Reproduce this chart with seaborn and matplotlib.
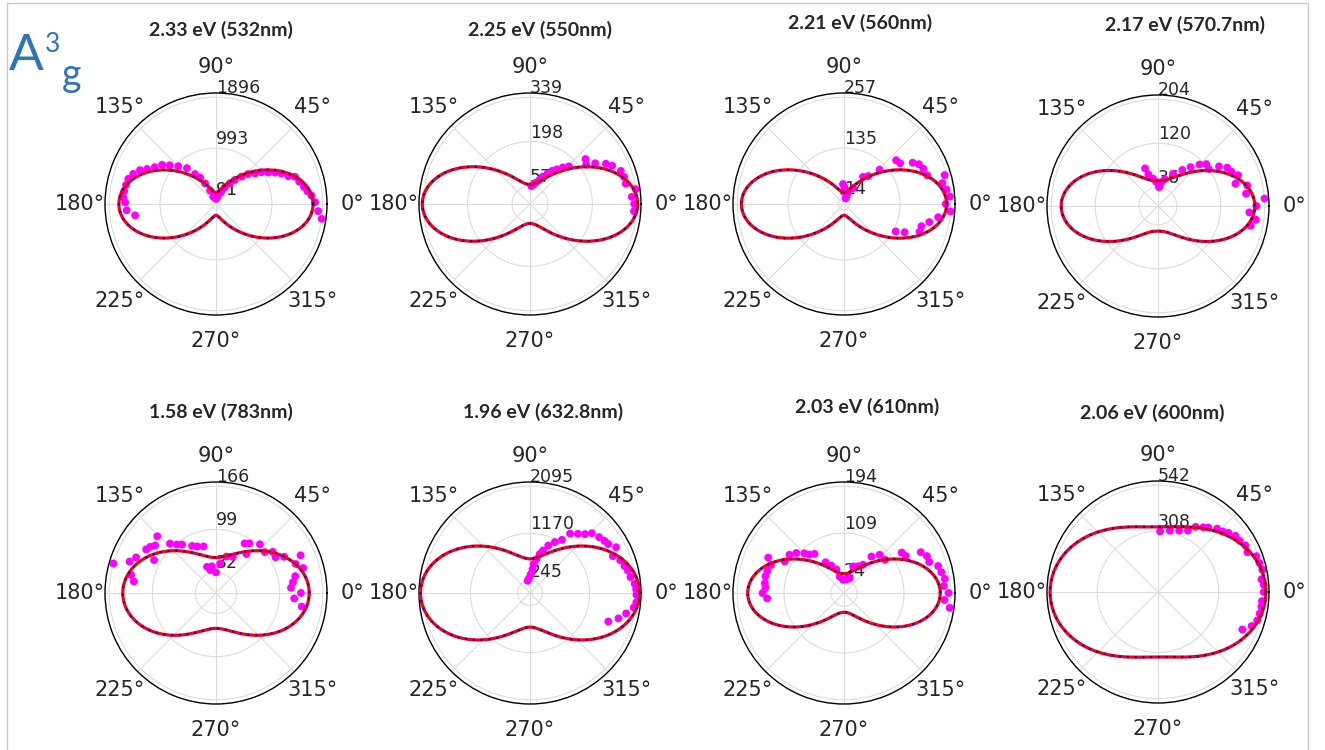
import numpy as np
import matplotlib
matplotlib.use("Agg")
import matplotlib.pyplot as plt
import seaborn as sns
from matplotlib.patches import Rectangle

sns.set_style("white")
plt.rcParams['font.family'] = ['DejaVu Sans']

# panel titles, in drawing order (top row then bottom row)
titles = ["2.33 eV (532nm)", "2.25 eV (550nm)", "2.21 eV (560nm)", "2.17 eV (570.7nm)",
          "1.58 eV (783nm)", "1.96 eV (632.8nm)", "2.03 eV (610nm)", "2.06 eV (600nm)"]

# fitted intensity at 0, 90 and 45 degrees
fit_0 = [1725, 342, 247, 185, 145, 2150, 175, 548]
fit_90 = [200, 62, 27, 48, 55, 670, 35, 330]
fit_45 = [770, 152, 100, 92, 93, 1300, 81, 431]

# radial tick values shown on each panel
rticks = [[91, 993, 1896], [57, 198, 339], [14, 135, 257], [36, 120, 204],
          [32, 99, 166], [245, 1170, 2095], [24, 109, 194], [308, 542]]

# measured points (angle in degrees, intensity)
ang_233 = [-8, -4, 1, 5, 8, 11, 15, 19, 21, 25, 28, 31, 35, 38, 43, 47, 52, 56, 62, 68,
           79, 90, 110, 114, 118, 121, 125, 129, 135, 140, 144, 149, 153, 156, 160, 164,
           168, 172, 176, 179, 184, 188]
r_233 = [1896, 1820, 1760, 1704, 1638, 1592, 1531, 1484, 1377, 1281, 1188, 1086, 983, 881,
         779, 666, 543, 443, 336, 217, 121, 91, 138, 260, 415, 547, 650, 820, 950, 1071,
         1184, 1270, 1373, 1478, 1565, 1621, 1633, 1647, 1650, 1615, 1590, 1451]

ang_225 = [-4, 0, 4, 8, 12, 16, 20, 25, 28, 32, 35, 39, 44, 48, 52, 56, 60, 65, 69, 75, 81, 86]
r_225 = [331, 331, 324, 339, 311, 311, 307, 288, 273, 244, 218, 227, 172, 156, 140, 127,
         112, 96, 81, 70, 61, 57]

ang_221 = [-28, -25, -20, -16, -12, -8, -4, 0, 4, 8, 12, 16, 19, 24, 28, 31, 36, 40, 44, 49,
           55, 60, 71, 72, 75, 93, 88, 92]
r_221 = [141, 161, 194, 194, 210, 229, 257, 245, 256, 249, 242, 252, 212, 209, 204, 193,
         167, 164, 119, 89, 80, 44, 29, 19, 14, 48, 40, 30]

ang_217 = [-12, -8, -4, 0, 4, 8, 13, 16, 21, 25, 29, 33, 36, 41, 45, 50, 56, 65, 76, 82,
           85, 87, 94, 100, 107, 109]
r_217 = [181, 189, 175, 188, 204, 170, 175, 154, 164, 155, 151, 139, 120, 122, 112, 97,
         83, 68, 53, 46, 39, 36, 46, 53, 63, 76]

ang_158 = [-9, -4, 0, 4, 8, 12, 16, 20, 24, 28, 31, 36, 40, 48, 52, 56, 60, 65, 74, 82,
           90, 99, 104, 109, 105, 112, 117, 125, 129, 133, 136, 142, 145, 148, 152, 156,
           160, 164, 168, 172]
r_158 = [135, 122, 132, 117, 121, 126, 141, 132, 144, 120, 108, 109, 99, 102, 77, 93, 89,
         62, 59, 46, 32, 42, 37, 43, 75, 78, 82, 92, 97, 105, 127, 120, 125, 128, 109, 136,
         143, 166, 135, 129]

ang_196 = [-20, -16, -12, -8, -5, -1, 2, 5, 9, 13, 16, 20, 24, 28, 32, 35, 39, 44, 47, 51,
           56, 59, 64, 69, 73, 76, 79, 83, 84, 88, 94, 101]
r_196 = [1636, 1806, 1930, 2056, 2095, 2090, 2085, 2063, 1997, 1969, 1930, 1884, 1780,
         1913, 1813, 1784, 1744, 1688, 1581, 1494, 1407, 1217, 1112, 998, 871, 789, 677,
         570, 468, 366, 287, 245]

ang_203 = [-8, -4, 0, 4, 8, 12, 16, 20, 24, 28, 31, 35, 39, 47, 53, 56, 62, 71, 69, 80,
           94, 105, 108, 115, 121, 127, 132, 135, 140, 145, 152, 155, 159, 164, 168, 173,
           176, 180, 184]
r_203 = [194, 183, 190, 182, 185, 181, 178, 165, 165, 158, 131, 128, 96, 95, 83, 62, 55,
         51, 29, 25, 24, 31, 45, 55, 65, 89, 94, 102, 113, 121, 122, 152, 142, 145, 146,
         145, 143, 148, 140]

ang_206 = [-24, -20, -16, -12, -8, -5, 0, 4, 7, 12, 16, 20, 24, 28, 32, 36, 40, 43, 47,
           52, 55, 60, 64, 71, 79, 88]
r_206 = [469, 506, 524, 528, 530, 530, 537, 538, 529, 542, 536, 532, 497, 503, 490, 486,
         467, 450, 440, 415, 401, 382, 347, 330, 317, 308]

angles = [ang_233, ang_225, ang_221, ang_217, ang_158, ang_196, ang_203, ang_206]
values = [r_233, r_225, r_221, r_217, r_158, r_196, r_203, r_206]

# panel centres in pixels (figure is 1325 x 750)
centres = [(216, 204), (530, 204), (844, 204), (1158, 206),
           (216, 593), (530, 593), (844, 593), (1158, 592)]
title_pos = [(221, 30), (540, 30), (860, 23), (1185, 25),
             (221, 412), (543, 412), (867, 407), (1152, 413)]
W, H = 1325, 750
rad = 111

fig = plt.figure(figsize=(W / 100, H / 100), dpi=100)
fig.patch.set_facecolor('white')

theta = np.linspace(0, 2 * np.pi, 721)
c2 = np.cos(theta) ** 2
s2 = np.sin(theta) ** 2

for i in range(8):
    cx, cy = centres[i]
    ax = fig.add_axes([(cx - rad) / W, 1 - (cy + rad) / H, 2 * rad / W, 2 * rad / H],
                      projection='polar')
    # Raman tensor model: I = I0 cos^4 + I90 sin^4 + cross cos^2 sin^2
    cross = 4 * fit_45[i] - fit_0[i] - fit_90[i]
    fit = fit_0[i] * c2 ** 2 + fit_90[i] * s2 ** 2 + cross * c2 * s2

    sns.scatterplot(x=np.deg2rad(angles[i]), y=values[i], ax=ax, color='magenta',
                    s=32, edgecolor='none', zorder=2)
    sns.lineplot(x=theta, y=fit, ax=ax, color='red', linewidth=2.3, sort=False,
                 estimator=None, zorder=3)
    sns.lineplot(x=theta, y=fit, ax=ax, color='blue', linewidth=1.6,
                 dashes=False, sort=False, estimator=None, zorder=4)
    ax.lines[-1].set_linestyle((0, (1, 2.5)))

    ax.set_rlim(0, rticks[i][-1] * 1.04)
    ax.set_rticks(rticks[i])
    ax.set_rlabel_position(90)
    ax.set_xlabel('')
    ax.set_ylabel('')
    ax.grid(True, color='#dcdcdc', linewidth=0.8)
    ax.spines['polar'].set_color('black')
    ax.spines['polar'].set_linewidth(1.0)
    ax.tick_params(axis='x', labelsize=15, pad=8)
    ax.tick_params(axis='y', labelsize=12.5)

    tx, ty = title_pos[i]
    fig.text(tx / W, 1 - ty / H, titles[i], ha='center', va='center',
             fontsize=14, fontweight='bold', family='Lato')

# A_g^3 label
blue = '#2e75b6'
fig.text(9 / W, 1 - 70 / H, 'A', color=blue, fontsize=37, family='Lato', va='baseline')
fig.text(45 / W, 1 - 52 / H, '3', color=blue, fontsize=19, family='Lato', va='baseline')
fig.text(62 / W, 1 - 86 / H, 'g', color=blue, fontsize=27, family='Lato', va='baseline')

# light frame around the figure
fig.add_artist(Rectangle((7 / W, -0.01), (1308 - 7) / W, 1 - 3 / H + 0.01,
                         transform=fig.transFigure, fill=False,
                         edgecolor='#c8c8c8', linewidth=1.0))

fig.savefig('out.png', dpi=100)
